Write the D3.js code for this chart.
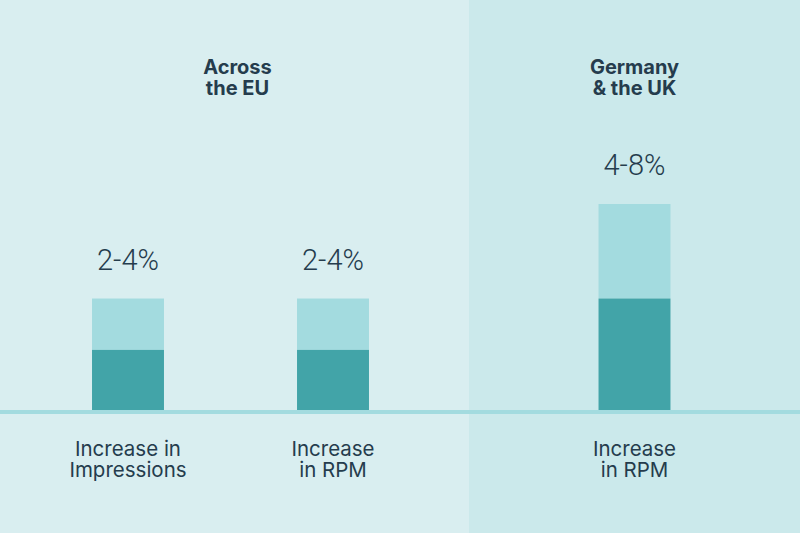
<!DOCTYPE html>
<html>
<head>
<meta charset="utf-8">
<script src="https://cdn.jsdelivr.net/npm/d3@7"></script>
<style>
  body { margin: 0; background: #d9eef0; }
  svg { display: block; }
</style>
</head>
<body>
<div id="viz"></div>
<script>
const width = 800,
      height = 533;

// data
const categories = ['Increase in|Impressions', 'Increase|in RPM', 'Increase|in RPM'];
const groupOf = ['eu', 'eu', 'deuk'];
const lowValues = [2, 2, 4];
const highValues = [4, 4, 8];
const valueLabels = ['2-4%', '2-4%', '4-8%'];
const groupKeys = ['eu', 'deuk'];
const groupTitles = ['Across|the EU', 'Germany|& the UK'];

const colors = {
    bgLeft: '#d9eef0',
    bgRight: '#cbe9eb',
    low: '#42a4a8',
    high: '#a3dbdf',
    text: '#253c4d'
};

const svg = d3.select('#viz').append('svg')
    .attr('width', width)
    .attr('height', height);

const split = 469,
      baseY = 411;

const xPanel = d3.scaleOrdinal().domain(groupKeys).range([[0, split], [split, width]]);

// one band scale per panel, bars centred inside
const bands = {};
groupKeys.forEach(g => {
    const idx = categories.map((c, i) => i).filter(i => groupOf[i] === g);
    bands[g] = d3.scaleBand()
        .domain(idx)
        .range(g === 'eu' ? [26, 435] : xPanel(g))
        .paddingInner(0.649)
        .paddingOuter(g === 'eu' ? 0.322 : 0.632)
        .align(0.5);
});

function x(i) { return bands[groupOf[i]](i); }
function bw(i) { return bands[groupOf[i]].bandwidth(); }

const y = d3.scalePow().exponent(0.88)
    .domain([0, 8])
    .range([baseY, 204]);

// panel backgrounds
svg.selectAll('rect.panel')
    .data(groupKeys)
    .enter().append('rect')
    .attr('class', 'panel')
    .attr('x', d => xPanel(d)[0])
    .attr('y', 0)
    .attr('width', d => xPanel(d)[1] - xPanel(d)[0])
    .attr('height', height)
    .style('fill', (d, i) => i ? colors.bgRight : colors.bgLeft);

// bars: light top part, dark bottom part
const bar = svg.selectAll('g.bar')
    .data(categories.map((c, i) => i))
    .enter().append('g')
    .attr('class', 'bar');

bar.append('rect')
    .attr('x', x)
    .attr('width', bw)
    .attr('y', i => y(highValues[i]))
    .attr('height', i => y(lowValues[i]) - y(highValues[i]))
    .style('fill', colors.high);

bar.append('rect')
    .attr('x', x)
    .attr('width', bw)
    .attr('y', i => y(lowValues[i]))
    .attr('height', i => baseY - y(lowValues[i]))
    .style('fill', colors.low);

bar.append('text')
    .attr('x', i => x(i) + bw(i) / 2)
    .attr('y', i => y(highValues[i]) - 29)
    .attr('text-anchor', 'middle')
    .style('font-family', 'Roboto')
    .style('font-weight', 300)
    .style('font-size', '29px')
    .style('fill', colors.text)
    .text(i => valueLabels[i]);

// baseline
svg.append('rect')
    .attr('x', 0)
    .attr('y', baseY - 1)
    .attr('width', width)
    .attr('height', 4)
    .style('fill', colors.high);

// category labels, two lines each
bar.each(function(i) {
    const lines = categories[i].split('|');
    lines.forEach((t, j) => {
        d3.select(this).append('text')
            .attr('x', x(i) + bw(i) / 2)
            .attr('y', 456 + j * 21)
            .attr('text-anchor', 'middle')
            .style('font-family', 'Inter')
            .style('font-size', '20.5px')
            .style('fill', colors.text)
            .text(t);
    });
});

// panel titles
groupKeys.forEach((g, gi) => {
    const cx = (xPanel(g)[0] + xPanel(g)[1]) / 2 + (g === 'eu' ? 3 : 0);
    groupTitles[gi].split('|').forEach((t, j) => {
        svg.append('text')
            .attr('x', cx)
            .attr('y', 74 + j * 21)
            .attr('text-anchor', 'middle')
            .style('font-family', 'Inter')
            .style('font-weight', 700)
            .style('font-size', '20px')
            .style('fill', colors.text)
            .text(t);
    });
});
</script>
</body>
</html>
